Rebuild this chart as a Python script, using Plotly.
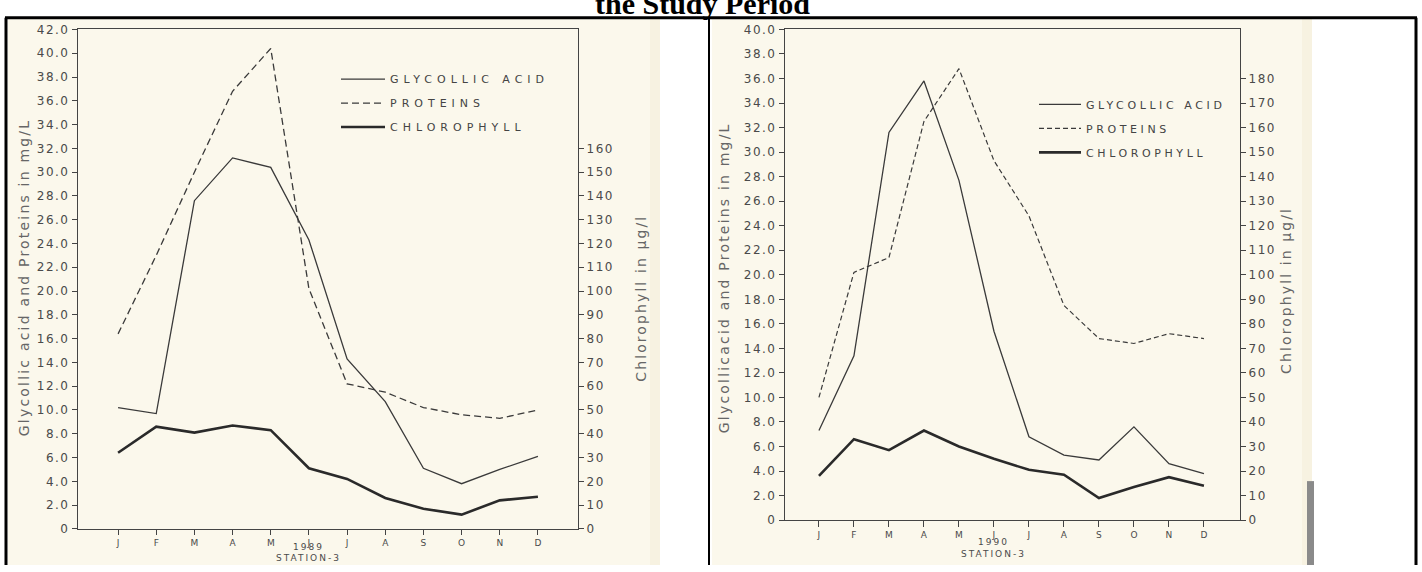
import plotly.graph_objects as go

W, H = 1422, 572

months = ["J", "F", "M", "A", "M", "J", "J", "A", "S", "O", "N", "D"]
month_pos = list(range(12))

# 1989 (left panel)
glyc_1989 = [10.2, 9.7, 27.6, 31.2, 30.4, 24.3, 14.3, 10.7, 5.1, 3.8, 5.0, 6.1]
prot_1989 = [16.4, 23.0, 30.0, 36.8, 40.4, 20.2, 12.2, 11.5, 10.2, 9.6, 9.3, 10.0]
chl_1989 = [32, 43, 40.5, 43.5, 41.5, 25.5, 21, 13, 8.5, 6, 12, 13.5]

# 1990 (right panel)
glyc_1990 = [7.3, 13.4, 31.6, 35.8, 27.7, 15.4, 6.8, 5.3, 4.9, 7.6, 4.6, 3.8]
prot_1990 = [10.0, 20.2, 21.4, 32.5, 36.8, 29.3, 24.8, 17.5, 14.8, 14.4, 15.2, 14.8]
chl_1990 = [18, 33, 28.5, 36.5, 30, 25, 20.5, 18.5, 9, 13.5, 17.5, 14]

left_ticks_1989 = [i * 2 for i in range(22)]
right_ticks_1989 = [i * 10 for i in range(17)]
left_ticks_1990 = [i * 2 for i in range(21)]
right_ticks_1990 = [i * 10 for i in range(19)]

LBL = "#4a4a4a"
FONT = "DejaVu Sans"


def spaced(s, px=1.5):
    return '<span style="letter-spacing:%spx">%s</span>' % (px, s)


def left_labels(ticks):
    return [spaced("0")] + [spaced("%.1f" % v) for v in ticks[1:]]


def right_labels(ticks):
    return [spaced(str(v)) for v in ticks]


def px_x(p):
    return p / W


def px_y(p):
    return 1 - p / H


fig = go.Figure()

series = [
    ("GLYCOLLIC ACID", dict(width=1.3, color="#3a3a3a"), "x", "y", glyc_1989, "legend", 5),
    ("PROTEINS", dict(width=1.3, color="#3a3a3a", dash="7px,4px"), "x", "y", prot_1989, "legend", 5),
    ("CHLOROPHYLL", dict(width=2.6, color="#2a2a2a"), "x", "y2", chl_1989, "legend", 5),
    ("GLYCOLLIC ACID", dict(width=1.3, color="#3a3a3a"), "x2", "y3", glyc_1990, "legend2", 3.6),
    ("PROTEINS", dict(width=1.2, color="#3a3a3a", dash="5px,3px"), "x2", "y3", prot_1990, "legend2", 3.6),
    ("CHLOROPHYLL", dict(width=2.6, color="#2a2a2a"), "x2", "y4", chl_1990, "legend2", 3.6),
]
for i, (name, line, xa, ya, vals, lg, ls) in enumerate(series):
    fig.add_trace(go.Scatter(
        x=month_pos, y=vals, mode="lines", name=spaced(name, ls), line=line,
        xaxis=xa, yaxis=ya, legend=lg, legendgroup="g%d" % i,
        hoverinfo="skip",
    ))

tickfont = dict(family=FONT, size=12, color=LBL)
monthfont = dict(family=FONT, size=9, color=LBL)

# panel geometry (pixels)
L1, R1, T1, B1 = 78, 578, 23, 535
L2, R2, T2, B2 = 785, 1240, 23, 526

common_x = dict(showline=True, linecolor="#444", linewidth=1.2, mirror=True,
                ticks="outside", tickcolor="#444", showgrid=False,
                zeroline=False, tickvals=month_pos, ticktext=months, tickfont=monthfont)
common_y = dict(showline=True, linecolor="#444", linewidth=1.2, ticks="outside",
                ticklen=5, tickcolor="#444", showgrid=False, zeroline=False,
                tickfont=tickfont)

fig.update_layout(
    width=W, height=H,
    margin=dict(l=0, r=0, t=0, b=0),
    paper_bgcolor="white", plot_bgcolor="rgba(0,0,0,0)",
    xaxis=dict(domain=[px_x(L1), px_x(R1)], range=[-1.05, 12.05], anchor="y",
               ticklen=5, **common_x),
    yaxis=dict(domain=[px_y(B1), px_y(T1)], range=[0, 42], anchor="x",
               tickvals=left_ticks_1989, ticktext=left_labels(left_ticks_1989), **common_y),
    yaxis2=dict(overlaying="y", side="right", anchor="x", range=[0, 210],
                tickvals=right_ticks_1989, ticktext=right_labels(right_ticks_1989), **common_y),
    xaxis2=dict(domain=[px_x(L2), px_x(R2)], range=[-0.97, 12.03], anchor="y3",
                ticklen=6, **common_x),
    yaxis3=dict(domain=[px_y(B2), px_y(T2)], range=[0, 40], anchor="x2",
                tickvals=left_ticks_1990, ticktext=left_labels(left_ticks_1990), **common_y),
    yaxis4=dict(overlaying="y3", side="right", anchor="x2", range=[0, 200],
                tickvals=right_ticks_1990, ticktext=right_labels(right_ticks_1990), **common_y),
    legend=dict(x=px_x(336), y=px_y(59), xanchor="left", yanchor="top",
                bgcolor="rgba(0,0,0,0)", font=dict(family=FONT, size=11, color="#444"),
                tracegroupgap=5, itemwidth=44),
    legend2=dict(x=px_x(1034), y=px_y(85), xanchor="left", yanchor="top",
                 bgcolor="rgba(0,0,0,0)", font=dict(family=FONT, size=11, color="#444"),
                 tracegroupgap=5, itemwidth=42),
    showlegend=True,
)

shapes = [
    # scanned pages
    dict(type="rect", xref="paper", yref="paper", x0=px_x(8), x1=px_x(660), y0=0, y1=px_y(12),
         fillcolor="#fbf8ec", line=dict(width=0), layer="below"),
    dict(type="rect", xref="paper", yref="paper", x0=px_x(650), x1=px_x(660), y0=0, y1=px_y(12),
         fillcolor="#f7f2e1", line=dict(width=0), layer="below"),
    dict(type="rect", xref="paper", yref="paper", x0=px_x(712), x1=px_x(1312), y0=0, y1=px_y(12),
         fillcolor="#fbf8ec", line=dict(width=0), layer="below"),
    dict(type="rect", xref="paper", yref="paper", x0=px_x(1302), x1=px_x(1312), y0=0, y1=px_y(12),
         fillcolor="#f7f2e1", line=dict(width=0), layer="below"),
    dict(type="rect", xref="paper", yref="paper", x0=px_x(1307), x1=px_x(1314), y0=0, y1=px_y(486),
         fillcolor="#8a8a8a", line=dict(width=0), layer="below"),
    # table borders
    dict(type="line", xref="paper", yref="paper", x0=px_x(5), x1=px_x(1417), y0=px_y(11), y1=px_y(11),
         line=dict(color="black", width=3)),
    dict(type="line", xref="paper", yref="paper", x0=px_x(6), x1=px_x(6), y0=0, y1=px_y(11),
         line=dict(color="black", width=3)),
    dict(type="line", xref="paper", yref="paper", x0=px_x(709), x1=px_x(709), y0=0, y1=px_y(11),
         line=dict(color="black", width=2)),
    dict(type="line", xref="paper", yref="paper", x0=px_x(1416), x1=px_x(1416), y0=0, y1=px_y(11),
         line=dict(color="black", width=3)),
]
fig.update_layout(shapes=shapes)

titlefont = dict(family=FONT, size=14, color="#666666")
ann_font = dict(family=FONT, size=9, color=LBL)

# axis titles
fig.add_annotation(text=spaced("Glycollic acid and Proteins in mg/L", 2.2), xref="paper", x=px_x(14),
                   yref="paper", y=px_y(278), textangle=-90, showarrow=False, font=titlefont)
fig.add_annotation(text=spaced("Chlorophyll in µg/l", 2.1), xref="paper", x=px_x(641),
                   yref="paper", y=px_y(299), textangle=-90, showarrow=False, font=titlefont)
fig.add_annotation(text=spaced("Glycollicacid and Proteins in mg/L", 2.2), xref="paper", x=px_x(724),
                   yref="paper", y=px_y(278), textangle=-90, showarrow=False, font=titlefont)
fig.add_annotation(text=spaced("Chlorophyll in µg/l", 2.1), xref="paper", x=px_x(1296),
                   yref="paper", y=px_y(291), textangle=-90, showarrow=False, font=titlefont)

# year / station labels
fig.add_annotation(text=spaced("1989", 2), xref="x", x=5, yref="paper", y=px_y(560),
                   showarrow=False, font=ann_font, borderpad=0)
fig.add_annotation(text=spaced("STATION-3", 2), xref="x", x=5, yref="paper", y=px_y(571),
                   showarrow=False, font=ann_font, borderpad=0)
fig.add_annotation(text=spaced("1990", 2), xref="x2", x=5, yref="paper", y=px_y(555),
                   showarrow=False, font=ann_font, borderpad=0)
fig.add_annotation(text=spaced("STATION-3", 2), xref="x2", x=5, yref="paper", y=px_y(567),
                   showarrow=False, font=ann_font, borderpad=0)

# page heading (cut off at the top edge, as in the source)
fig.add_annotation(text="<b>the Study Period</b>", xref="paper", x=px_x(702), yref="paper",
                   y=px_y(-4), showarrow=False, yanchor="middle",
                   font=dict(family="Liberation Serif", size=30, color="black"))

fig.write_html("out.html",
               config={"displayModeBar": False},
               post_script="document.body.style.margin='0';document.body.style.overflow='hidden';")
